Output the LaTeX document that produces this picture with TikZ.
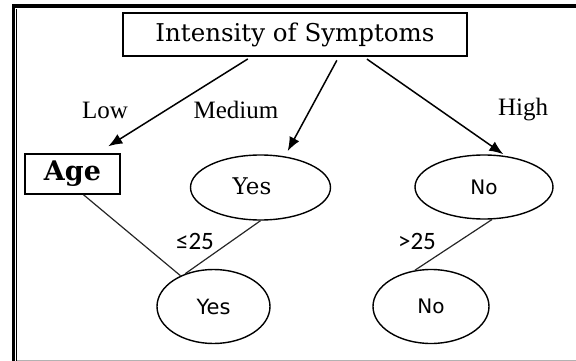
\documentclass[tikz,border=0pt]{standalone}
\usepackage{fontspec}
\setmainfont{DejaVu Serif}
\newfontfamily\lblfont{Liberation Serif}
\newfontfamily\leaffont{DejaVu Sans}
\newfontfamily\cmpfont{Carlito}
\usetikzlibrary{shapes.geometric, positioning, arrows.meta}

\begin{document}
\begin{tikzpicture}[x=1pt, y=-1pt,
        every node/.style={inner sep=0pt},
        box/.style={draw, line width=1.6pt},
        leaf/.style={draw, ellipse, line width=1.4pt},
        branch/.style={-{Latex[length=14pt,width=11pt]}, line width=1.5pt, shorten <=4pt},
        link/.style={line width=1.2pt, draw=black!85}]
        \useasboundingbox (0,0) rectangle (576,361);
        % frame
        \fill (12,4) rectangle (15.2,361);
        \fill (12,4) rectangle (576,8);
        \fill (16.2,9) rectangle (17.4,361);
        \draw[black!30, line width=1pt] (17.4,360) -- (576,360);
        % root
        \node (symp) [box, minimum width=344pt, minimum height=43pt,
                      font=\fontsize{24.5}{27}\selectfont] at (295,34.5) {Intensity of Symptoms};
        % first level
        \node (age)  [box, minimum width=95pt, minimum height=40pt,
                      font=\bfseries\fontsize{27}{30}\selectfont] at (72.5,174) {Age};
        \node (yes1) [leaf, minimum width=140pt, minimum height=65pt] at (260.5,187.5) {};
        \node [font=\fontsize{23}{26}\selectfont] at (252,186) {Yes};
        \node (no1)  [leaf, minimum width=138pt, minimum height=64pt,
                      font=\leaffont\fontsize{20}{24}\selectfont] at (484,187) {No};
        % second level
        \node (yes2) [leaf, minimum width=113pt, minimum height=74pt,
                      font=\leaffont\fontsize{21}{24}\selectfont] at (213.5,306.5) {Yes};
        \node (no2)  [leaf, minimum width=116pt, minimum height=74pt,
                      font=\leaffont\fontsize{20}{24}\selectfont] at (431,306.5) {No};
        % branches
        \foreach \s/\e/\d in {207/age.40/13pt, 333/yes1.52/6pt, 342/no1.55/3pt}
            \draw[branch, shorten >=\d]  (symp.\s) -- (\e);
        \foreach \t/\x in {Low/105, Medium/236, High/523}
            \node (l\t) [font=\lblfont\fontsize{25}{28}\selectfont] at (\x,110) {\t};
        % links
        \draw[link]  (age.298) -- (yes2.137);
        \draw[link]  (yes1.south) -- (yes2.131);
        \draw[link]  (no1.284) -- (no2.114);
        \node (le) [font=\cmpfont\fontsize{25}{28}\selectfont] at (195,241) {≤25};
        \node (gt) [font=\cmpfont\fontsize{25}{28}\selectfont] at (417,241) {>25};
        %
\end{tikzpicture}
\end{document}
